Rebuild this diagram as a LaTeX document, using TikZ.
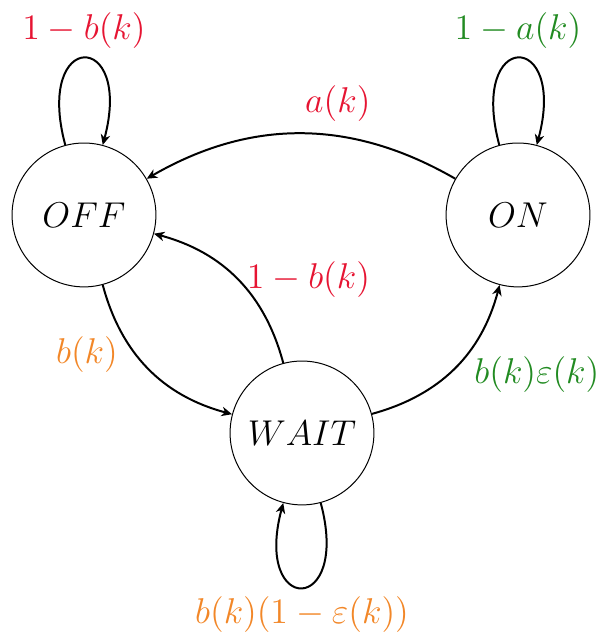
\documentclass[tikz,border=0pt]{standalone}
\usepackage{amsmath}
\usepackage{amssymb}
\usepackage{tikz}
\usetikzlibrary{
  arrows.meta
}
\definecolor{lblred}{RGB}{230,20,50}
\definecolor{lblgreen}{RGB}{34,139,34}
\definecolor{lblorange}{RGB}{242,135,40}

\begin{document}
\begin{tikzpicture}[>={Stealth[length=4.2pt,width=3.8pt,inset=1.3pt]},
  font=\Large,
  state/.style={circle,draw,thin,minimum size=2.03cm},
  trans/.style={->,thick}]

\useasboundingbox (0,0) rectangle (8.438,9.016);

%--------------------
% 状態
%--------------------
\node[state] (OFF) at (1.185,5.983) {$OFF$};
\node[state] (ON) at (7.309,5.983) {$ON$};
\node[state] (WAIT) at (4.261,2.907) {$WAIT$};

%--------------------
% 自己ループ
%--------------------
\draw[trans] (OFF) to[out=105,in=75,looseness=8.2]
  node[above,lblred] {$1-b(k)$} (OFF);

\draw[trans] (ON) to[out=105,in=75,looseness=8.2]
  node[above,lblgreen] {$1-a(k)$} (ON);

\draw[trans] (WAIT) to[out=-75,in=-105,looseness=8]
  node[below,lblorange] {$b(k)(1-\varepsilon(k))$} (WAIT);

%--------------------
% 遷移
%--------------------
\draw[trans] (ON) to[bend right=30]
  node[pos=0.38,above=2pt,lblred] {$a(k)$} (OFF);

\draw[trans] (OFF) to[bend right=30]
  node[pos=0.4,left=0.13cm,lblorange] {$b(k)$} (WAIT);

\draw[trans] (WAIT) to[bend right=30]
  node[right,lblred] {$1-b(k)$} (OFF);

\draw[trans] (WAIT) to[bend right=30]
  node[pos=0.45,right=0.24cm,lblgreen] {$b(k)\varepsilon(k)$} (ON);

\end{tikzpicture}
\end{document}
